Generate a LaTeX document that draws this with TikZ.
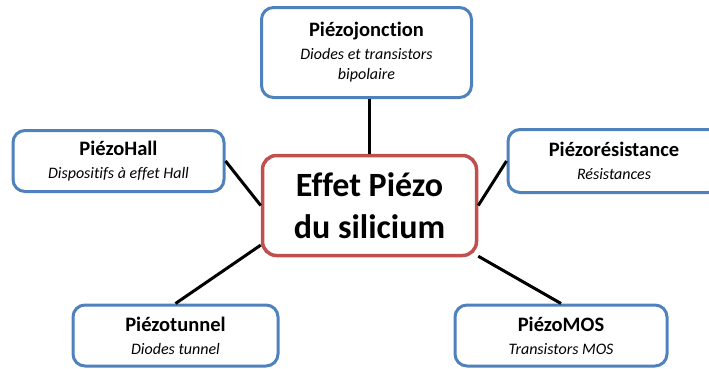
\documentclass[tikz,border=0pt]{standalone}
\usepackage{fontspec}
\setmainfont{Carlito}[Ligatures={NoCommon}]
\definecolor{boxblue}{HTML}{4F81BD}
\definecolor{boxred}{HTML}{C0504D}
\newcommand{\ttl}[1]{{\fontsize{20.5}{25}\selectfont\bfseries #1}}
\newcommand{\sbt}[1]{{\fontsize{16}{20}\selectfont\itshape #1}}
\begin{document}
\begin{tikzpicture}[x=1pt,y=-1pt,
  leaf/.style={draw=boxblue, line width=3pt, rounded corners=12pt, fill=white,
    align=center, inner sep=0pt, font=\fontsize{16}{20}\selectfont},
  hub/.style={draw=boxred, line width=3.5pt, rounded corners=14pt, fill=white,
    align=center, inner sep=0pt, font=\fontsize{34}{42}\selectfont\bfseries},
  link/.style={line width=3pt, black}]
\useasboundingbox (0,0) rectangle (709,368);
\node[hub, minimum width=214pt, minimum height=100pt] (c) at (369.5,205.5) {Effet Piézo\\du silicium};
\node[leaf, minimum width=210pt, minimum height=90pt] (top) at (366.5,52.5) {\ttl{Piézojonction}\\[3pt]\sbt{Diodes et transistors}\\\sbt{bipolaire}};
\node[leaf, minimum width=211pt, minimum height=61pt] (hall) at (118.5,161) {\ttl{PiézoHall}\\[3pt]\sbt{Dispositifs à effet Hall}};
\node[leaf, minimum width=212pt, minimum height=63pt] (res) at (614,161) {\ttl{Piézorésistance}\\[3pt]\sbt{Résistances}};
\node[leaf, minimum width=205pt, minimum height=61pt] (tun) at (175.5,335.5) {\ttl{Piézotunnel}\\[3pt]\sbt{Diodes tunnel}};
\node[leaf, minimum width=212pt, minimum height=61pt] (mos) at (561,335.5) {\ttl{PiézoMOS}\\[3pt]\sbt{Transistors MOS}};
\draw[link] (c.north) -- (c.north |- top.south);
\draw[link] (hall.east) -- (c.west);
\draw[link] (c.east) -- (res.west);
\draw[link] (c.200) -- (tun.north);
\draw[link] (c.335) -- (mos.north);
\end{tikzpicture}
\end{document}
